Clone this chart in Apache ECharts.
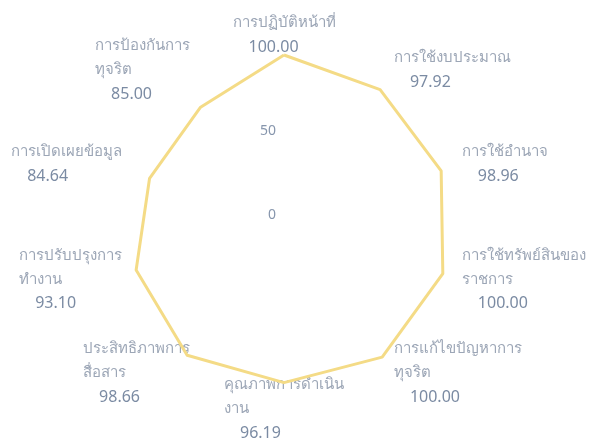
<!DOCTYPE html>
<html>
<head>
<meta charset="utf-8">
<script src="https://cdn.jsdelivr.net/npm/echarts@6/dist/echarts.min.js"></script>
<style>
html,body{margin:0;padding:0;background:#fff;}
#chart{width:592px;height:443px;}
</style>
</head>
<body>
<div id="chart"></div>
<script>
// categories listed clockwise from the top
const categories = [
  'การปฏิบัติหน้าที่',
  'การใช้งบประมาณ',
  'การใช้อำนาจ',
  'การใช้ทรัพย์สินของ\nราชการ',
  'การแก้ไขปัญหาการ\nทุจริต',
  'คุณภาพการดำเนิน\nงาน',
  'ประสิทธิภาพการ\nสื่อสาร',
  'การปรับปรุงการ\nทำงาน',
  'การเปิดเผยข้อมูล',
  'การป้องกันการ\nทุจริต'
];
const scores = [100.00, 97.92, 98.96, 100.00, 100.00, 96.19, 98.66, 93.10, 84.64, 85.00];
const axisMax = 100;
const axisInterval = 50;

// ECharts radar runs counter-clockwise: reorder so the picture runs clockwise
const order = [0].concat(categories.map((_, i) => i).slice(1).reverse());

const chart = echarts.init(document.getElementById('chart'), null, {renderer: 'canvas'});
const indicator = order.map((idx, k) => {
  const o = {name: categories[idx], max: axisMax, min: 0};
  if (k === 0) o.axisLabel = {show: true};
  if (idx > 5) o.nameTextStyle = {padding: [0, -16, 0, 0]};
  return o;
});
chart.setOption({
  animation: false,
  backgroundColor: '#ffffff',
  radar: {
    center: [284, 222],
    radius: 167,
    startAngle: 90,
    splitNumber: axisMax / axisInterval,
    indicator: indicator,
    nameGap: 20,
    axisName: {
      verticalAlign: 'middle',
      formatter: function (name) {
        const i = categories.indexOf(name);
        const lines = name.split('\n').map(l => '{n|' + l + '}');
        lines.push('{v|' + scores[i].toFixed(2) + '}');
        return lines.join('\n');
      },
      rich: {
        n: {fontFamily: 'Noto Sans, sans-serif', fontSize: 15, color: '#9ca6b6', lineHeight: 24, align: 'left'},
        v: {fontFamily: 'Noto Sans, sans-serif', fontSize: 16, color: '#7b8ba3', lineHeight: 25, align: 'left', padding: [0, 0, 0, 16]}
      }
    },
    axisLine: {show: false},
    axisTick: {show: false},
    splitLine: {show: false},
    splitArea: {show: false},
    axisLabel: {show: false, color: '#8796ad', fontSize: 14, verticalAlign: 'bottom', fontFamily: 'Noto Sans, sans-serif', formatter: v => v === axisMax ? '' : v}
  },
  series: [{
    type: 'radar',
    symbol: 'none',
    lineStyle: {color: '#f4db86', width: 3},
    data: [{value: order.map(i => scores[i])}]
  }]
});
</script>
</body>
</html>
